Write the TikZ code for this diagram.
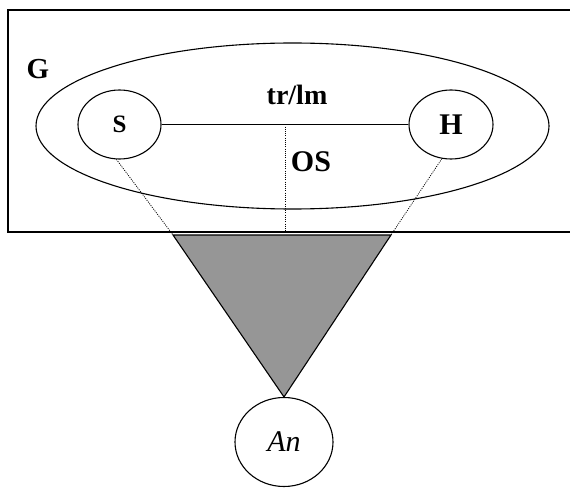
\documentclass[tikz,border=0pt]{standalone}
\usepackage{fontspec}
\setmainfont{Liberation Serif}
\usetikzlibrary{shapes.geometric,calc}
\definecolor{conegray}{gray}{0.59}

\begin{document}
\begin{tikzpicture}[x=1pt,y=-1pt,line width=1.1pt,
    oval/.style={draw,ellipse,inner sep=0pt},
    guide/.style={line width=0.8pt,dash pattern=on 1pt off 1.2pt},
    bigtext/.style={font=\bfseries\fontsize{#1}{#1}\selectfont,inner sep=0pt}]
    \useasboundingbox (0,0) rectangle (570,489);
    \draw (8,10) rectangle (600,232);
    \coordinate (boxbot) at (0,232);
    \node[oval,minimum width=513pt,minimum height=166pt] (grp) at (292.5,126) {};
    \node[oval,minimum width=83pt,minimum height=69pt,bigtext=25] (S) at (119.5,124.5) {S};
    \node[oval,minimum width=84pt,minimum height=69pt,bigtext=30] (H) at (451,124.5) {H};
    \node[bigtext=29,anchor=base] (G) at (38,79) {G};
    \node[bigtext=28,anchor=base] (trlm) at (297,104.5) {tr/lm};
    \node[bigtext=30,anchor=base] (OS) at (311,172) {OS};
    \node[oval,minimum width=98pt,minimum height=89pt,font=\itshape\fontsize{30}{30}\selectfont] (An) at (284,442) {An};
    \draw (S.east) -- (H.west);
    \coordinate (mid) at ($(S.east)!0.5!(H.west)$);
    \draw[guide] (mid) -- (mid |- boxbot);
    \coordinate (tl) at (173,235);
    \coordinate (tr) at (391,235);
    \draw[fill=conegray] (tl) -- (tr) -- (An.north) -- cycle;
    \draw[guide] (S.265) -- (tl);
    \draw[guide] (H.255) -- (tr);
\end{tikzpicture}
\end{document}
